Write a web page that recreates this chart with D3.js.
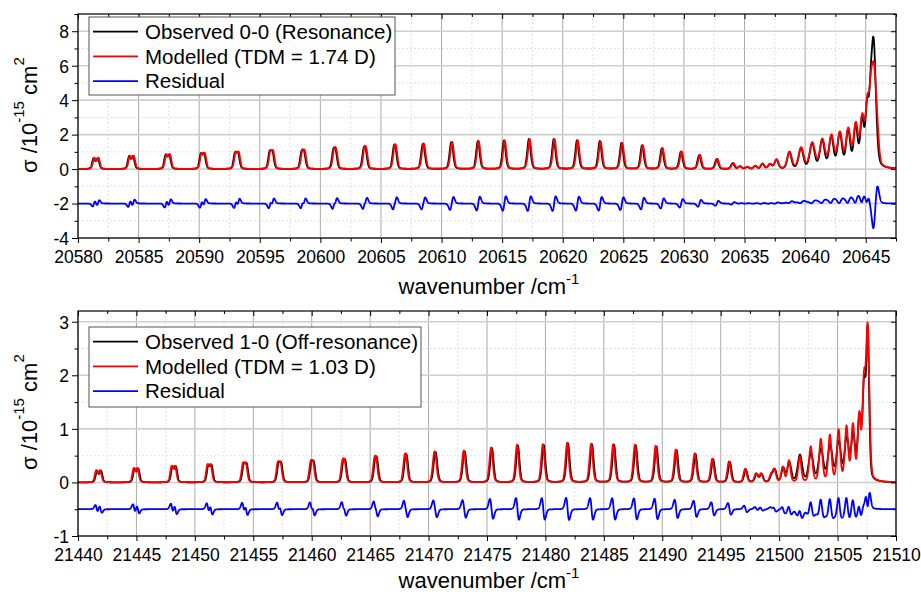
<!DOCTYPE html>
<html>
<head>
<meta charset="utf-8">
<script src="https://cdn.jsdelivr.net/npm/d3@7"></script>
<style>
  body { margin: 0; background: #fff; }
  svg { display: block; font-family: Arial, "Liberation Sans", sans-serif; }
</style>
</head>
<body>
<svg id="chart" width="921" height="594"></svg>
<script>
// ---- top panel: 0-0 band (line centres, peak heights, doublet splitting, widths, model offsets in cm-1)
const topPos = [20581.46, 20584.38, 20587.38, 20590.27, 20593.08, 20595.93, 20598.55, 20601.16, 20603.65, 20606.12,
  20608.47, 20610.81, 20613.00, 20615.15, 20617.21, 20619.26, 20621.18, 20623.06, 20624.85, 20626.55,
  20628.18, 20629.75, 20631.26, 20632.70, 20634.02, 20634.62, 20635.22, 20635.88, 20636.48, 20637.10,
  20637.63, 20638.70, 20639.66, 20640.58, 20641.41, 20642.16, 20642.86, 20643.55, 20644.17, 20644.70,
  20645.12, 20645.40, 20645.65, 20645.95];
const topObs = [0.64, 0.76, 0.85, 0.92, 0.98, 1.08, 1.12, 1.26, 1.32, 1.42,
  1.47, 1.56, 1.62, 1.66, 1.74, 1.74, 1.67, 1.62, 1.52, 1.38,
  1.20, 1.00, 0.80, 0.57, 0.33, 0.15, 0.12, 0.17, 0.30, 0.27,
  0.52, 0.95, 1.18, 1.45, 1.62, 1.82, 1.98, 2.15, 2.40, 2.70,
  3.30, 2.00, 7.20, 0.00];
const topMod = [0.66, 0.78, 0.86, 0.93, 1.00, 1.10, 1.14, 1.27, 1.34, 1.44,
  1.48, 1.57, 1.62, 1.66, 1.73, 1.73, 1.66, 1.60, 1.51, 1.38,
  1.21, 1.02, 0.82, 0.59, 0.35, 0.16, 0.13, 0.18, 0.31, 0.28,
  0.55, 0.98, 1.21, 1.47, 1.65, 1.85, 2.00, 2.18, 2.43, 2.75,
  3.30, 2.10, 5.50, 0.85];
const topSplit = [0.34, 0.32, 0.30, 0.28, 0.26, 0.24, 0.22, 0.20, 0.18, 0.16,
  0.14, 0.12, 0.10, 0.08, 0, 0, 0, 0, 0, 0,
  0, 0, 0, 0, 0, 0, 0, 0, 0, 0,
  0, 0, 0, 0, 0, 0, 0, 0, 0, 0,
  0, 0, 0, 0];
const topWid = [0.12, 0.12, 0.12, 0.12, 0.12, 0.12, 0.12, 0.12, 0.12, 0.12,
  0.13, 0.13, 0.13, 0.13, 0.14, 0.14, 0.14, 0.14, 0.14, 0.14,
  0.14, 0.14, 0.14, 0.14, 0.14, 0.14, 0.14, 0.14, 0.14, 0.15,
  0.16, 0.17, 0.19, 0.20, 0.19, 0.18, 0.18, 0.17, 0.16, 0.15,
  0.14, 0.12, 0.19, 0.14];
const topModWid = [0.12, 0.12, 0.12, 0.12, 0.12, 0.12, 0.12, 0.12, 0.12, 0.12,
  0.13, 0.13, 0.13, 0.13, 0.14, 0.14, 0.14, 0.14, 0.14, 0.14,
  0.14, 0.14, 0.14, 0.14, 0.14, 0.14, 0.14, 0.14, 0.14, 0.15,
  0.16, 0.19, 0.21, 0.22, 0.21, 0.20, 0.20, 0.19, 0.18, 0.17,
  0.15, 0.13, 0.21, 0.14];
const topShift = [0.06, 0.06, 0.06, 0.06, 0.06, 0.06, 0.06, 0.06, 0.06, 0.06,
  0.06, 0.06, 0.06, 0.06, 0.06, 0.06, 0.06, 0.06, 0.06, 0.06,
  0.06, 0.06, 0.06, 0.06, 0.05, 0.02, 0.02, 0.02, 0.02, 0.02,
  0.02, 0.015, 0.015, 0.015, 0.015, 0.015, 0.015, 0.015, 0.015, 0.015,
  0.015, 0.015, 0.02, 0];
const topXTicks = [20580, 20585, 20590, 20595, 20600, 20605, 20610, 20615, 20620, 20625, 20630, 20635, 20640, 20645];
const topYTicks = [-4, -2, 0, 2, 4, 6, 8];
const topLegend = ['Observed 0-0 (Resonance)', 'Modelled (TDM = 1.74 D)', 'Residual'];

// ---- bottom panel: 1-0 band
const botPos = [21441.80, 21445.00, 21448.23, 21451.29, 21454.31, 21457.28, 21460.08, 21462.79, 21465.51, 21468.08,
  21470.59, 21473.08, 21475.42, 21477.64, 21479.85, 21481.93, 21483.98, 21485.87, 21487.73, 21489.50,
  21491.22, 21492.84, 21494.35, 21495.78, 21497.15, 21498.07, 21498.50, 21499.36, 21499.64, 21500.35,
  21500.87, 21501.78, 21502.72, 21503.58, 21504.36, 21505.10, 21505.78, 21506.33, 21506.87, 21507.27,
  21507.58];
const botObs = [0.22, 0.26, 0.30, 0.33, 0.36, 0.38, 0.41, 0.44, 0.49, 0.53,
  0.57, 0.58, 0.64, 0.69, 0.70, 0.73, 0.71, 0.70, 0.69, 0.67,
  0.60, 0.53, 0.43, 0.38, 0.24, 0.15, 0.15, 0.12, 0.22, 0.26,
  0.36, 0.50, 0.52, 0.60, 0.66, 0.73, 0.78, 0.84, 1.15, 1.70,
  2.72];
const botMod = [0.23, 0.27, 0.31, 0.34, 0.37, 0.39, 0.42, 0.45, 0.50, 0.54,
  0.58, 0.59, 0.65, 0.70, 0.71, 0.74, 0.72, 0.71, 0.70, 0.68,
  0.61, 0.54, 0.44, 0.39, 0.25, 0.16, 0.16, 0.13, 0.23, 0.28,
  0.40, 0.47, 0.66, 0.79, 0.86, 0.95, 1.00, 1.02, 1.18, 1.70,
  2.80];
const botSplit = [0.34, 0.32, 0.30, 0.28, 0.26, 0.24, 0.22, 0.20, 0.18, 0.16,
  0.14, 0.12, 0.10, 0.08, 0, 0, 0, 0, 0, 0,
  0, 0, 0, 0, 0, 0, 0, 0, 0, 0,
  0, 0, 0, 0, 0, 0, 0, 0, 0, 0,
  0];
const botWid = [0.12, 0.12, 0.12, 0.12, 0.12, 0.12, 0.12, 0.12, 0.12, 0.12,
  0.13, 0.13, 0.13, 0.13, 0.14, 0.14, 0.14, 0.14, 0.14, 0.14,
  0.14, 0.14, 0.14, 0.14, 0.14, 0.14, 0.14, 0.14, 0.14, 0.15,
  0.17, 0.19, 0.20, 0.20, 0.20, 0.19, 0.18, 0.17, 0.15, 0.13,
  0.12];
const botModWid = [0.12, 0.12, 0.12, 0.12, 0.12, 0.12, 0.12, 0.12, 0.12, 0.12,
  0.13, 0.13, 0.13, 0.13, 0.14, 0.14, 0.14, 0.14, 0.14, 0.14,
  0.14, 0.14, 0.14, 0.14, 0.14, 0.14, 0.14, 0.14, 0.14, 0.13,
  0.13, 0.13, 0.14, 0.14, 0.14, 0.14, 0.14, 0.14, 0.13, 0.13,
  0.14];
const botShift = [-0.07, -0.07, -0.07, -0.07, -0.07, -0.07, -0.07, -0.07, -0.07, -0.07,
  -0.07, -0.07, -0.07, -0.07, -0.07, -0.07, -0.07, -0.07, -0.07, -0.07,
  -0.07, -0.07, -0.07, -0.07, -0.06, -0.05, -0.05, -0.05, -0.05, -0.04,
  -0.03, -0.015, -0.015, -0.015, -0.015, -0.015, -0.015, -0.015, -0.015, -0.01,
  0];
const botXTicks = [21440, 21445, 21450, 21455, 21460, 21465, 21470, 21475, 21480, 21485, 21490, 21495, 21500, 21505, 21510];
const botYTicks = [-1, 0, 1, 2, 3];
const botLegend = ['Observed 1-0 (Off-resonance)', 'Modelled (TDM = 1.03 D)', 'Residual'];

const colors = ['#000000', '#ff0000', '#0000ff'];

const svg = d3.select('#chart');
const left = 78, right = 896;

// pseudo-Voigt line shape (unit height)
const eta = 0.3;
function shape(d, w) {
  const hw = 1.1774 * w;
  return eta / (1 + (d / hw) ** 2) + (1 - eta) * Math.exp(-d * d / (2 * w * w));
}

// sum of (doublet) line profiles on a grid
function spectrum(xs, pos, h, split, wid, shift) {
  const lines = pos.map((c, i) => {
    const w = wid[i], s = split[i];
    const k = Math.max(1 + shape(s, w), 2 * shape(s / 2, w));
    return {c: c + (shift ? shift[i] : 0), w, d: s / 2, a: h[i] / k};
  });
  return xs.map(v => {
    let sum = 0;
    for (const l of lines) {
      const u = v - l.c;
      if (Math.abs(u) > 3) continue;
      sum += l.a * (shape(u - l.d, l.w) + shape(u + l.d, l.w));
    }
    return sum;
  });
}

function drawPanel(p, idx) {
  const x = d3.scaleLinear().domain(p.xDomain).range([left, right]);
  const y = d3.scaleLinear().domain(p.yDomain).range([p.bottom, p.top]);
  const g = svg.append('g');

  const xMinor = p.xTicks.map(v => v + p.xMinorStep).filter(v => v <= p.xDomain[1]);
  const yMinor = p.yTicks.map(v => v + p.yMinorStep).filter(v => v <= p.yDomain[1]);

  // grid
  g.append('g').selectAll('line').data(xMinor).join('line')
    .attr('x1', d => x(d)).attr('x2', d => x(d)).attr('y1', p.top).attr('y2', p.bottom)
    .attr('stroke', '#e2e2e2').attr('stroke-dasharray', '2,2');
  g.append('g').selectAll('line').data(yMinor).join('line')
    .attr('x1', left).attr('x2', right).attr('y1', d => y(d)).attr('y2', d => y(d))
    .attr('stroke', '#e2e2e2').attr('stroke-dasharray', '2,2');
  g.append('g').selectAll('line').data(p.xTicks).join('line')
    .attr('x1', d => x(d)).attr('x2', d => x(d)).attr('y1', p.top).attr('y2', p.bottom)
    .attr('stroke', '#ababab').attr('stroke-width', 1);
  g.append('g').selectAll('line').data(p.yTicks).join('line')
    .attr('x1', left).attr('x2', right).attr('y1', d => y(d)).attr('y2', d => y(d))
    .attr('stroke', '#cfcfcf').attr('stroke-width', 1.6);

  // spectra
  const xs = d3.range(p.xDomain[0], p.xDomain[1] + 0.005, 0.01);
  const obs = spectrum(xs, p.pos, p.obs, p.split, p.wid, null);
  const mod = spectrum(xs, p.pos, p.mod, p.split, p.modWid, p.shift);
  const res = mod.map((m, i) => m - obs[i] + p.residualOffset);

  const clipId = 'clip' + idx;
  svg.append('clipPath').attr('id', clipId).append('rect')
    .attr('x', left).attr('y', p.top).attr('width', right - left).attr('height', p.bottom - p.top);

  const line = d3.line().x((d, i) => x(xs[i])).y(d => y(d));
  g.append('g').attr('clip-path', `url(#${clipId})`)
    .selectAll('path').data([obs, mod, res]).join('path')
    .attr('d', d => line(d))
    .attr('fill', 'none')
    .attr('stroke', (d, i) => colors[i])
    .attr('stroke-width', 1.8)
    .attr('stroke-linejoin', 'round');

  // axes
  const styleAxis = sel => {
    sel.attr('font-size', null).attr('font-family', null);
    sel.select('.domain').remove();
    sel.selectAll('line').attr('stroke', '#000');
  };
  const bx = g.append('g').attr('transform', `translate(0,${p.bottom})`)
    .call(d3.axisBottom(x).tickValues(p.xTicks).tickSize(5).tickFormat(d => String(d)))
    .call(styleAxis);
  bx.selectAll('text').attr('y', p.tickLabelDy).attr('dy', 0).attr('font-size', 17.5).attr('fill', '#000');
  g.append('g').attr('transform', `translate(0,${p.bottom})`)
    .call(d3.axisBottom(x).tickValues(xMinor).tickSize(3.5).tickFormat('')).call(styleAxis);
  g.append('g').attr('transform', `translate(0,${p.top})`)
    .call(d3.axisTop(x).tickValues(p.xTicks).tickSize(-5).tickFormat('')).call(styleAxis);
  g.append('g').attr('transform', `translate(0,${p.top})`)
    .call(d3.axisTop(x).tickValues(xMinor).tickSize(-3).tickFormat('')).call(styleAxis);

  const ly = g.append('g').attr('transform', `translate(${left},0)`)
    .call(d3.axisLeft(y).tickValues(p.yTicks).tickSize(6).tickPadding(3).tickFormat(d => String(d)))
    .call(styleAxis);
  ly.selectAll('text').attr('font-size', 17.5).attr('fill', '#000').attr('dy', '0.36em');
  g.append('g').attr('transform', `translate(${left},0)`)
    .call(d3.axisLeft(y).tickValues(yMinor).tickSize(3.5).tickFormat('')).call(styleAxis);
  g.append('g').attr('transform', `translate(${right},0)`)
    .call(d3.axisRight(y).tickValues(p.yTicks).tickSize(-5).tickFormat('')).call(styleAxis);
  g.append('g').attr('transform', `translate(${right},0)`)
    .call(d3.axisRight(y).tickValues(yMinor).tickSize(-3).tickFormat('')).call(styleAxis);

  g.append('rect')
    .attr('x', left).attr('y', p.top).attr('width', right - left).attr('height', p.bottom - p.top)
    .attr('fill', 'none').attr('stroke', '#000').attr('stroke-width', 1.2);

  // axis titles
  const xt = g.append('text')
    .attr('x', (left + right) / 2 + 2).attr('y', p.xTitleY)
    .attr('text-anchor', 'middle').attr('font-size', 22).attr('fill', '#000');
  xt.append('tspan').text('wavenumber /cm');
  xt.append('tspan').attr('dy', -10).attr('font-size', 15).text('-1');

  const yt = g.append('text')
    .attr('transform', `translate(37,${p.yTitleStart}) rotate(-90)`)
    .attr('font-size', 22).attr('fill', '#000');
  yt.append('tspan').text('σ /10');
  yt.append('tspan').attr('dy', -13).attr('font-size', 15).text('-15');
  yt.append('tspan').attr('dy', 13).text(' cm');
  yt.append('tspan').attr('dy', -13).attr('font-size', 15).text('2');

  // legend
  const lg = g.append('g');
  lg.append('rect')
    .attr('x', p.legendBox[0]).attr('y', p.legendBox[1])
    .attr('width', p.legendBox[2]).attr('height', p.legendBox[3])
    .attr('fill', '#fff').attr('stroke', '#555').attr('stroke-width', 1);
  const rows = lg.selectAll('g.row').data(p.legend).join('g')
    .attr('class', 'row')
    .attr('transform', (d, i) => `translate(0,${p.legendBox[1] + 14.7 + i * 24.7})`);
  rows.append('line')
    .attr('x1', 93).attr('x2', 138).attr('y1', 0).attr('y2', 0)
    .attr('stroke', (d, i) => colors[i]).attr('stroke-width', 1.8);
  rows.append('text')
    .attr('x', 145).attr('dy', '0.36em')
    .attr('font-size', 20.5).attr('fill', '#000')
    .text(d => d);
}

const panels = [
  {
    pos: topPos, obs: topObs, mod: topMod, split: topSplit, wid: topWid, modWid: topModWid, shift: topShift,
    xDomain: [20580, 20647.5], yDomain: [-4, 9], top: 14, bottom: 238,
    xTicks: topXTicks, yTicks: topYTicks, xMinorStep: 2.5, yMinorStep: 1,
    residualOffset: -2,
    legend: topLegend, legendBox: [89, 17, 306, 78],
    tickLabelDy: 25, xTitleY: 294, yTitleStart: 173
  },
  {
    pos: botPos, obs: botObs, mod: botMod, split: botSplit, wid: botWid, modWid: botModWid, shift: botShift,
    xDomain: [21440, 21510], yDomain: [-1, 3.2], top: 311, bottom: 536,
    xTicks: botXTicks, yTicks: botYTicks, xMinorStep: 2.5, yMinorStep: 0.5,
    residualOffset: -0.5,
    legend: botLegend, legendBox: [89, 327, 332, 80],
    tickLabelDy: 25, xTitleY: 588, yTitleStart: 470
  }
];

panels.forEach(drawPanel);
</script>
</body>
</html>
